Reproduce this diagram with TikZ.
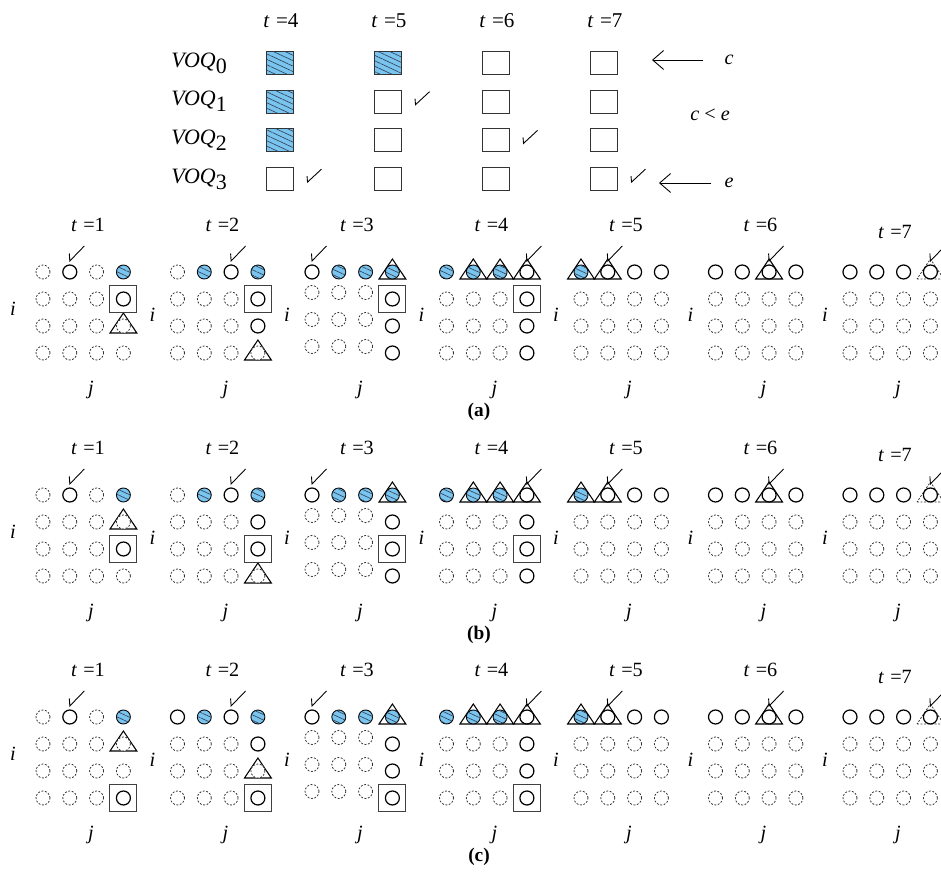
\documentclass[tikz,border=0pt]{standalone}
\usepackage{fontspec}
\setmainfont{Liberation Serif}
\usetikzlibrary{arrows.meta,patterns.meta}
\definecolor{qblue}{HTML}{7AC4F0}
\definecolor{qline}{HTML}{2F3F4F}
\tikzset{
  dcirc/.style={draw=black!80, line width=0.45pt, dash pattern=on 1.1pt off 0.9pt, fill=white},
  scirc/.style={draw=black, line width=0.7pt, fill=white},
  hcirc/.style={draw=black, line width=0.5pt, fill=qblue,
    postaction={pattern color=qline, pattern={Lines[angle=-25,distance=2.8pt,line width=0.35pt]}}},
  ncirc/.style={draw=none},
  tribox/.style={draw=black, line width=0.6pt},
  dtribox/.style={draw=black!80, line width=0.45pt, dash pattern=on 1.1pt off 0.9pt},
  sqbox/.style={draw=black!75, line width=0.6pt},
  tickmark/.style={draw=black, line width=0.5pt},
  qbox/.style={draw=black!80, line width=0.6pt, minimum width=0.54cm, minimum height=0.46cm, inner sep=0pt},
  qhbox/.style={qbox, fill=qblue,
    postaction={pattern color=qline, pattern={Lines[angle=-25,distance=2.8pt,line width=0.35pt]}}},
  lbl/.style={font=\fontsize{11.5}{13}\selectfont, inner sep=1pt},
  tlbl/.style={font=\fontsize{11.5}{13}\selectfont, inner sep=1pt},
  voqlbl/.style={font=\fontsize{12.5}{14}\selectfont, inner sep=1pt},
  caplbl/.style={font=\fontsize{11}{13}\selectfont\bfseries, inner sep=1pt},
  qarrow/.style={-{Straight Barb[length=2.2mm,width=3.8mm]}, line width=0.5pt}
}
% one row of four cells: x of first cell, y, kinds (d dashed, s solid, h hatched, n none)
\newcommand\cellrow[6]{%
  \foreach \k [count=\c from 0] in {#3,#4,#5,#6}
    \draw[\k circ] ({#1+\c*26.8},{#2}) circle[radius=0.14cm];}
\newcommand\tri[4][tribox]{\draw[#1] ({#2+#3*26.8-13.4},{#4+7}) -- ++(26.8,0) -- ++(-13.4,-20) -- cycle;}
\newcommand\sqr[3]{\draw[sqbox] ({#1+#2*26.8-13.5},{#3-13.5}) rectangle ++(27,27);}
\newcommand\tick[3]{\draw[tickmark] ({#1+#2*26.8-0.5},{#3-18.5}) -- ({#1+#2*26.8},{#3-11}) -- ++(14.5,-15);}
\newcommand\qtick[1]{\draw[tickmark] ([shift={(13,-3)}]#1.east) -- ([shift={(13.5,3)}]#1.east) -- ++(14,-13);}
\newcommand\teq[1]{\textit{t}\hspace{0.3em}=#1}
% panels t=3 .. t=7, same in every group
\newcommand\rest[1]{%
  % t = 3
  \tri{312}{3}{#1}
  \cellrow{312}{#1}{s}{h}{h}{h}
  \foreach \r in {1,2,3}{
    \cellrow{312}{#1+27*\r-6.5}{d}{d}{d}{n}
    \cellrow{312}{#1+27*\r}{n}{n}{n}{s}
  }
  \tick{312}{0}{#1}
  % t = 4
  \foreach \cc in {1,2,3}{\tri{446.5}{\cc}{#1}}
  \cellrow{446.5}{#1}{h}{h}{h}{s}
  \foreach \r in {1,2,3}{\cellrow{446.5}{#1+27*\r}{d}{d}{d}{s}}
  \tick{446.5}{3}{#1}
  % t = 5
  \tri{581}{0}{#1}
  \tri{581}{1}{#1}
  \cellrow{581}{#1}{h}{s}{s}{s}
  \foreach \r in {1,2,3}{\cellrow{581}{#1+27*\r}{d}{d}{d}{d}}
  \tick{581}{1}{#1}
  % t = 6
  \tri{715.5}{2}{#1}
  \cellrow{715.5}{#1}{s}{s}{s}{s}
  \foreach \r in {1,2,3}{\cellrow{715.5}{#1+27*\r}{d}{d}{d}{d}}
  \tick{715.5}{2}{#1}
  % t = 7
  \tri[dtribox]{850}{3}{#1}
  \cellrow{850}{#1}{s}{s}{s}{s}
  \foreach \r in {1,2,3}{\cellrow{850}{#1+27*\r}{d}{d}{d}{d}}
  \tick{850}{3}{#1}
}
\newcommand\grouplabels[2]{%
  \foreach \p in {1,...,7}{
    \pgfmathsetmacro\px{43+134.5*(\p-1)}
    \ifnum\p=7 \def\ty{40}\else\def\ty{47}\fi
    \ifnum\p=1 \def\ix{30}\def\iy{37}\else\def\ix{25}\def\iy{43}\fi
    \node[tlbl] (t#2\p) at (\px+45,#1-\ty) {\teq{\p}};
    \node[lbl] (i#2\p) at (\px-\ix,#1+\iy) {\textit{i}};
    \node[lbl] (j#2\p) at (\px+48,#1+118) {\textit{j}};
  }
  \node[caplbl] (cap#2) at (479,#1+140) {(#2)};
}

\begin{document}
\begin{tikzpicture}[x=0.02cm, y=-0.02cm]
\useasboundingbox (0,0) rectangle (941,874);

% VOQ table
\foreach \c/\t in {0/4,1/5,2/6,3/7}
  \node[tlbl, font=\fontsize{12}{14}\selectfont] (h\t) at ({281+108*\c},21) {\teq{\t}};
\foreach \r in {0,1,2,3}{
  \node[voqlbl] (voq\r) at (199,{63+38.7*\r}) {\textit{VOQ}\raisebox{-0.6ex}{\r}};
  \foreach \c in {0,1,2,3}
    \node[qbox] (q\r\c) at ({280+108*\c},{63+38.7*\r}) {};
}
\foreach \r/\c in {0/0,1/0,2/0,0/1}
  \node[qhbox] at (q\r\c) {};
\qtick{q11}
\qtick{q22}
\qtick{q30}
\qtick{q33}
\node[lbl] (cc) at (729,60) {\textit{c}};
\node[lbl] (ce) at (729,183) {\textit{e}};
\node[lbl] (clte) at (710,115) {\textit{c} < \textit{e}};
\coordinate (cend) at (652,60);
\coordinate (eend) at (659,183);
\draw[qarrow, shorten <=0.38cm] (cc) -- (cend);
\draw[qarrow, shorten <=0.22cm] (ce) -- (eend);

% (a)
\tri{43}{3}{326}
\cellrow{43}{272}{d}{s}{d}{h}
\cellrow{43}{299}{d}{d}{d}{s}
\cellrow{43}{326}{d}{d}{d}{d}
\cellrow{43}{353}{d}{d}{d}{d}
\sqr{43}{3}{299}
\tick{43}{1}{272}
\tri{177.5}{3}{353}
\cellrow{177.5}{272}{d}{h}{s}{h}
\cellrow{177.5}{299}{d}{d}{d}{s}
\cellrow{177.5}{326}{d}{d}{d}{s}
\cellrow{177.5}{353}{d}{d}{d}{d}
\sqr{177.5}{3}{299}
\tick{177.5}{2}{272}
\rest{272}
\sqr{312}{3}{299}
\sqr{446.5}{3}{299}
\grouplabels{272}{a}

% (b)
\tri{43}{3}{522}
\cellrow{43}{495}{d}{s}{d}{h}
\cellrow{43}{522}{d}{d}{d}{d}
\cellrow{43}{549}{d}{d}{d}{s}
\cellrow{43}{576}{d}{d}{d}{d}
\sqr{43}{3}{549}
\tick{43}{1}{495}
\tri{177.5}{3}{576}
\cellrow{177.5}{495}{d}{h}{s}{h}
\cellrow{177.5}{522}{d}{d}{d}{s}
\cellrow{177.5}{549}{d}{d}{d}{s}
\cellrow{177.5}{576}{d}{d}{d}{d}
\sqr{177.5}{3}{549}
\tick{177.5}{2}{495}
\rest{495}
\sqr{312}{3}{549}
\sqr{446.5}{3}{549}
\grouplabels{495}{b}

% (c)
\tri{43}{3}{744}
\cellrow{43}{717}{d}{s}{d}{h}
\cellrow{43}{744}{d}{d}{d}{d}
\cellrow{43}{771}{d}{d}{d}{d}
\cellrow{43}{798}{d}{d}{d}{s}
\sqr{43}{3}{798}
\tick{43}{1}{717}
\tri{177.5}{3}{771}
\cellrow{177.5}{717}{s}{h}{s}{h}
\cellrow{177.5}{744}{d}{d}{d}{s}
\cellrow{177.5}{771}{d}{d}{d}{d}
\cellrow{177.5}{798}{d}{d}{d}{s}
\sqr{177.5}{3}{798}
\tick{177.5}{2}{717}
\rest{717}
\sqr{312}{3}{798}
\sqr{446.5}{3}{798}
\grouplabels{717}{c}
\end{tikzpicture}
\end{document}
